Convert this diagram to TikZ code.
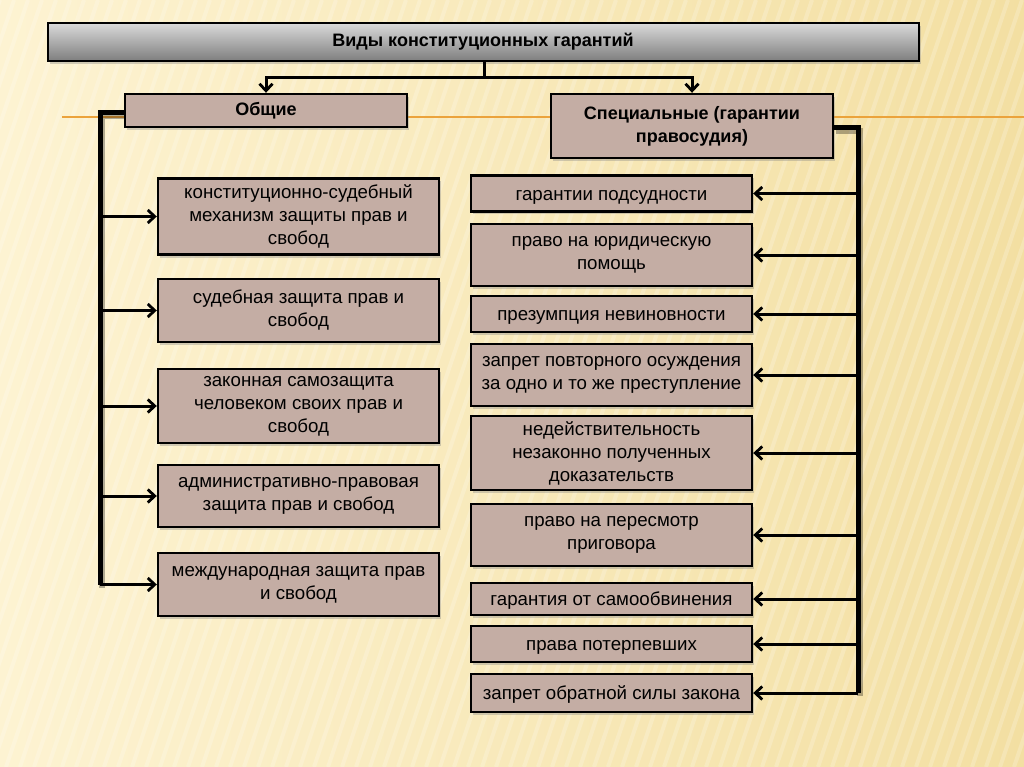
\documentclass[tikz,border=0pt]{standalone}
\usepackage{fontspec}
\setmainfont{Liberation Sans}
\usetikzlibrary{arrows.meta,shadows,calc}
\definecolor{boxfill}{HTML}{C4ADA4}
\definecolor{bgA}{HTML}{FDF3D2}
\definecolor{bgB}{HTML}{F3DFA2}
\definecolor{orangeline}{HTML}{EBA33C}
\definecolor{titletop}{HTML}{DADADA}
\definecolor{titlebot}{HTML}{7E7E7E}
\begin{document}
\begin{tikzpicture}[x=1pt,y=-1pt,
  shad/.style={drop shadow={opacity=0.35,shadow xshift=2pt,shadow yshift=-3pt}},
  box/.style={draw=black,line width=2.4pt,fill=boxfill,minimum width=281pt,
    align=center,inner sep=0pt,font=\fontsize{18.7}{23}\selectfont,shad,
    execute at begin node={\rule{0pt}{17.5pt}}},
  head/.style={draw=black,line width=2.4pt,fill=boxfill,align=center,inner sep=0pt,
    shad,font=\bfseries\fontsize{18}{23}\selectfont},
  titlebox/.style={draw=black,line width=2pt,minimum width=871pt,minimum height=38pt,
    top color=titletop,bottom color=titlebot,inner sep=0pt,
    font=\bfseries\fontsize{18}{21}\selectfont,shad},
  conn/.style={line width=3pt,-{Straight Barb[length=7pt,width=13pt,line width=2.8pt]}},
  bus/.style={line width=5pt,line join=miter,
    preaction={draw=black,opacity=0.3,line width=6.5pt,transform canvas={xshift=2pt,yshift=-3pt}}}
]
% background
\shade[left color=bgA,right color=bgB] (0,0) rectangle (1024,767);
\begin{scope}
  \clip (0,0) rectangle (1024,767);
  \foreach \i in {0,14,...,1300}
    \draw[white,opacity=0.2,line width=4pt] (\i-260,767) -- (\i,0);
\end{scope}
\useasboundingbox (0,0) rectangle (1024,767);
\draw[orangeline,line width=2pt] (62,117) -- (1024,117);

% nodes
\node[titlebox] (title) at (483,42) {Виды конституционных гарантий};
\node[head,minimum width=282pt,minimum height=33pt] (gen) at (266,110.5) {Общие};
\node[head,minimum width=282pt,minimum height=64pt] (spec) at (692,126) {Специальные (гарантии\\правосудия)};

\node[box,minimum height=76pt] (L1) at (298.5,216.5) {конституционно-судебный\\механизм защиты прав и\\свобод};
\node[box,minimum height=63pt] (L2) at (298.5,310.5) {судебная защита прав и\\свобод};
\node[box,minimum height=74pt] (L3) at (298.5,406) {законная самозащита\\человеком своих прав и\\свобод};
\node[box,minimum height=62pt] (L4) at (298.5,496) {административно-правовая\\защита прав и свобод};
\node[box,minimum height=63pt] (L5) at (298.5,584.5) {международная защита прав\\и свобод};

\node[box,minimum height=36pt] (R1) at (611.5,193.5) {гарантии подсудности};
\node[box,minimum height=62pt] (R2) at (611.5,255) {право на юридическую\\помощь};
\node[box,minimum height=36pt] (R3) at (611.5,314) {презумпция невиновности};
\node[box,minimum height=62pt] (R4) at (611.5,375) {запрет повторного осуждения\\за одно и то же преступление};
\node[box,minimum height=74pt] (R5) at (611.5,453) {недействительность\\незаконно полученных\\доказательств};
\node[box,minimum height=62pt] (R6) at (611.5,535) {право на пересмотр\\приговора};
\node[box,minimum height=32pt] (R7) at (611.5,599) {гарантия от самообвинения};
\node[box,minimum height=36pt] (R8) at (611.5,644) {права потерпевших};
\node[box,minimum height=38pt] (R9) at (611.5,693) {запрет обратной силы закона};

% top connectors
\coordinate (split) at (484,78);
\draw[line width=3pt] (title.south -| split) -- (split);
\draw[conn] (split) -| (gen.north);
\draw[conn] (split) -| (spec.north);

% buses
\coordinate (lb) at (100,0);
\coordinate (rb) at (858,0);
\draw[bus] (gen.west |- 0,113) -| (lb |- L5.west);
\draw[bus] (spec.east |- 0,128) -| (rb |- R9.east);

\foreach \n in {L1,L2,L3,L4,L5}
  \draw[conn] (lb |- \n.west) -- (\n.west);
\foreach \n in {R1,R2,R3,R4,R5,R6,R7,R8,R9}
  \draw[conn] (rb |- \n.east) -- (\n.east);
\end{tikzpicture}
\end{document}
